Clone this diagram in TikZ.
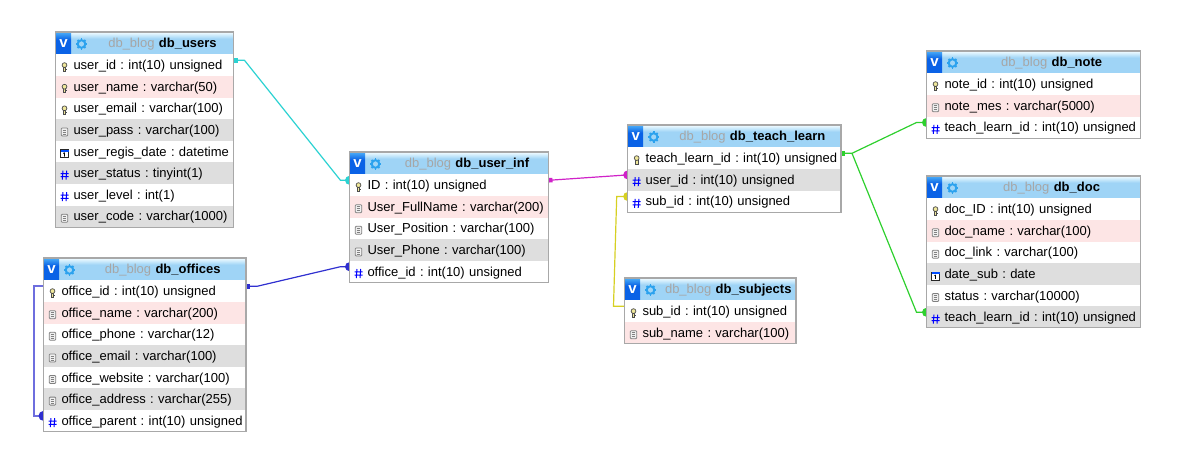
\documentclass[tikz,border=0pt]{standalone}
\usepackage{fontspec}
\setmainfont{Liberation Sans}
\usetikzlibrary{positioning, fit, backgrounds, arrows.meta}

\definecolor{rowpink}{HTML}{FDE5E5}
\definecolor{rowgray}{HTML}{DEDEDE}
\definecolor{framegray}{HTML}{A8A8A8}
\definecolor{headblue}{HTML}{9FD4F6}
\definecolor{headlight}{HTML}{E8F8FF}
\definecolor{vblue}{HTML}{0A62E6}
\definecolor{vlight}{HTML}{3FA0F5}
\definecolor{gearblue}{HTML}{2CA2EE}
\definecolor{keyfill}{HTML}{EFE79A}
\definecolor{linkcyan}{HTML}{2CD2D2}
\definecolor{linkblue}{HTML}{3030D0}
\definecolor{linkpink}{HTML}{D022C8}
\definecolor{linkyellow}{HTML}{D6D022}
\definecolor{linkgreen}{HTML}{2ED02E}

\pgfdeclareverticalshading{headshade}{100bp}{color(0bp)=(headblue); color(60bp)=(headblue); color(73bp)=(headlight); color(100bp)=(headlight)}
\pgfdeclareverticalshading{vshade}{100bp}{color(0bp)=(vblue); color(60bp)=(vblue); color(75bp)=(vlight); color(100bp)=(vlight)}

\tikzset{
  dbfont/.style={font=\fontsize{13}{15}\selectfont\frenchspacing},
  dbhead/.style={dbfont, shading=headshade, anchor=north west, inner sep=0pt, outer sep=0pt,
    text width=\tabw, minimum height=22.3pt, align=center, text height=11pt, text depth=2pt},
  dbv/.style={shading=vshade, anchor=north west, inner sep=0pt, outer sep=0pt, minimum width=15pt,
    minimum height=20.5pt, text=white, font=\fontsize{15}{15}\selectfont\bfseries},
  dbrow/.style={dbfont, inner sep=0pt, outer sep=0pt, text width=\tabw, minimum height=21.6pt,
    align=left, text height=11pt, text depth=2pt},
  plainrow/.style={dbrow, fill=white},
  pinkrow/.style={dbrow, fill=rowpink},
  grayrow/.style={dbrow, fill=rowgray},
  dbframe/.style={draw=framegray, line width=1.1pt, inner sep=0pt, outer sep=0pt},
  rel/.style={line width=1.2pt, {Square[length=4pt,width=4.5pt]}-, line join=round},
  pics/keyicon/.style={code={
    \draw[black!70, fill=keyfill, line width=0.6pt] (-1.1,-0.5) rectangle (1.1,4);
    \draw[black!70, fill=keyfill, line width=0.7pt] (0,-2) circle (2.4);
    \draw[black!70, line width=0.6pt] (1.1,2) -- (2.1,2);
  }},
  pics/docicon/.style={code={
    \draw[black!50, fill=black!6, line width=0.8pt, rounded corners=1pt] (-3.3,-4) rectangle (3.3,4);
    \draw[black!50, line width=0.6pt] (-1.8,-2) -- (1.8,-2) (-1.8,0) -- (1.8,0) (-1.8,2) -- (1.8,2);
  }},
  pics/dateicon/.style={code={
    \draw[black!85, fill=white, line width=0.8pt] (-4,-4) rectangle (4,4);
    \fill[blue!70!cyan] (-4,-4) rectangle (4,-2);
    \draw[black, line width=0.9pt] (0,-1) -- (0,3) (-1,0) -- (0,-1);
  }},
  pics/hashicon/.style={code={
    \draw[blue, line width=1pt] (-1.5,-4.5) -- (-2.2,4.5) (2.2,-4.5) -- (1.5,4.5)
      (-4,-1.6) -- (4,-1.6) (-4,1.6) -- (4,1.6);
  }},
  pics/gearicon/.style={code={
    \fill[gearblue!45] (0,0) circle (3);
    \draw[gearblue, line width=2pt] (0,0) circle (3.8);
    \foreach \a in {0,45,...,315} \draw[gearblue, line width=1.8pt] (\a:3.8) -- (\a:5.6);
  }}
}

% name, position, width, table name
\newcommand{\dbtitle}[4]{
  \def\tabw{#3pt}
  \node[dbhead] (#1head) at (#2) {\hspace*{36pt}\mbox{\textcolor{black!35}{db\_blog} \textbf{#4}}};
  \node[dbv] (#1v) at ([xshift=0.5pt,yshift=-1.5pt]#1head.north west) {v};
  \pic at ([xshift=26pt,yshift=-12pt]#1head.north west) {gearicon};
}
% previous row, name, row style, icon, text
\newcommand{\dbfield}[5]{
  \node[#3, below=0pt of #1] (#2) {\hspace*{18pt}\mbox{#5}};
  \pic at ([xshift=9pt,yshift=-2pt]#2.west) {#4};
  \coordinate (#2-l) at ([yshift=4.8pt]#2.west);
  \coordinate (#2-r) at ([yshift=4.8pt]#2.east);
}

\begin{document}
\begin{tikzpicture}[x=1pt, y=-1pt]
\useasboundingbox (0,0) rectangle (1184,469);

\dbtitle{users}{55.5,32}{178}{db\_users}
\dbfield{usershead}{usersid}{plainrow}{keyicon}{user\_id : int(10) unsigned}
\dbfield{usersid}{usersname}{pinkrow}{keyicon}{user\_name : varchar(50)}
\dbfield{usersname}{usersemail}{plainrow}{keyicon}{user\_email : varchar(100)}
\dbfield{usersemail}{userspass}{grayrow}{docicon}{user\_pass : varchar(100)}
\dbfield{userspass}{usersdate}{plainrow}{dateicon}{user\_regis\_date : datetime}
\dbfield{usersdate}{usersstatus}{grayrow}{hashicon}{user\_status : tinyint(1)}
\dbfield{usersstatus}{userslevel}{plainrow}{hashicon}{user\_level : int(1)}
\dbfield{userslevel}{userscode}{grayrow}{docicon}{user\_code : varchar(1000)}
\node[dbframe, fit=(usershead)(userscode)] (usersbox) {};

\dbtitle{offices}{43.5,258}{202.5}{db\_offices}
\dbfield{officeshead}{officesid}{plainrow}{keyicon}{office\_id : int(10) unsigned}
\dbfield{officesid}{officesname}{pinkrow}{docicon}{office\_name : varchar(200)}
\dbfield{officesname}{officesphone}{plainrow}{docicon}{office\_phone : varchar(12)}
\dbfield{officesphone}{officesemail}{grayrow}{docicon}{office\_email : varchar(100)}
\dbfield{officesemail}{officesweb}{plainrow}{docicon}{office\_website : varchar(100)}
\dbfield{officesweb}{officesaddr}{grayrow}{docicon}{office\_address : varchar(255)}
\dbfield{officesaddr}{officesparent}{plainrow}{hashicon}{office\_parent : int(10) unsigned}
\node[dbframe, fit=(officeshead)(officesparent)] (officesbox) {};

\dbtitle{inf}{349.5,152}{199}{db\_user\_inf}
\dbfield{infhead}{infid}{plainrow}{keyicon}{ID : int(10) unsigned}
\dbfield{infid}{infname}{pinkrow}{docicon}{User\_FullName : varchar(200)}
\dbfield{infname}{infpos}{plainrow}{docicon}{User\_Position : varchar(100)}
\dbfield{infpos}{infphone}{grayrow}{docicon}{User\_Phone : varchar(100)}
\dbfield{infphone}{infoffice}{plainrow}{hashicon}{office\_id : int(10) unsigned}
\node[dbframe, fit=(infhead)(infoffice)] (infbox) {};

\dbtitle{teach}{627.7,125}{213.3}{db\_teach\_learn}
\dbfield{teachhead}{teachid}{plainrow}{keyicon}{teach\_learn\_id : int(10) unsigned}
\dbfield{teachid}{teachuser}{grayrow}{hashicon}{user\_id : int(10) unsigned}
\dbfield{teachuser}{teachsub}{plainrow}{hashicon}{sub\_id : int(10) unsigned}
\node[dbframe, fit=(teachhead)(teachsub)] (teachbox) {};

\dbtitle{subjects}{624.5,278}{171.5}{db\_subjects}
\dbfield{subjectshead}{subjectsid}{plainrow}{keyicon}{sub\_id : int(10) unsigned}
\dbfield{subjectsid}{subjectsname}{pinkrow}{docicon}{sub\_name : varchar(100)}
\node[dbframe, fit=(subjectshead)(subjectsname)] (subjectsbox) {};

\dbtitle{note}{926.5,51}{214.2}{db\_note}
\dbfield{notehead}{noteid}{plainrow}{keyicon}{note\_id : int(10) unsigned}
\dbfield{noteid}{notemes}{pinkrow}{docicon}{note\_mes : varchar(5000)}
\dbfield{notemes}{notelearn}{plainrow}{hashicon}{teach\_learn\_id : int(10) unsigned}
\node[dbframe, fit=(notehead)(notelearn)] (notebox) {};

\dbtitle{doc}{926.5,176}{214.2}{db\_doc}
\dbfield{dochead}{docid}{plainrow}{keyicon}{doc\_ID : int(10) unsigned}
\dbfield{docid}{docname}{pinkrow}{docicon}{doc\_name : varchar(100)}
\dbfield{docname}{doclink}{plainrow}{docicon}{doc\_link : varchar(100)}
\dbfield{doclink}{docdate}{grayrow}{dateicon}{date\_sub : date}
\dbfield{docdate}{docstatus}{plainrow}{docicon}{status : varchar(10000)}
\dbfield{docstatus}{doclearn}{grayrow}{hashicon}{teach\_learn\_id : int(10) unsigned}
\node[dbframe, fit=(dochead)(doclearn)] (docbox) {};

% relations
\begin{scope}[on background layer]
\draw[rel, linkcyan] (usersid-r) -- ++(11,0) -- ([xshift=-9pt]infid-l) -- (infid-l);
\fill[linkcyan] (infid-l) circle (4.5);
\draw[rel, linkblue] (officesid-r) -- ++(11,0) -- ([xshift=-9pt]infoffice-l) -- (infoffice-l);
\fill[linkblue] (infoffice-l) circle (4.5);
\draw[linkblue!70, line width=2pt] (officesid-l) -- ++(-10,0) |- (officesparent-l);
\fill[linkblue] (officesparent-l) circle (5);
\draw[rel, linkpink] (infid-r) -- (teachuser-l);
\fill[linkpink] (teachuser-l) circle (4.5);
\draw[linkyellow, line width=1.2pt] (subjectsid-l) -- ++(-11,0) -- ([xshift=-11pt]teachsub-l) -- (teachsub-l);
\fill[linkyellow] (teachsub-l) circle (4.5);
\draw[rel, linkgreen] (teachid-r) -- ++(11,0) coordinate (greenfork) -- ([xshift=-10pt]notelearn-l) -- (notelearn-l);
\fill[linkgreen] (notelearn-l) circle (4.5);
\draw[linkgreen, line width=1.2pt] (greenfork) -- ([xshift=-10pt]doclearn-l) -- (doclearn-l);
\fill[linkgreen] (doclearn-l) circle (4.5);
\end{scope}

\end{tikzpicture}
\end{document}
